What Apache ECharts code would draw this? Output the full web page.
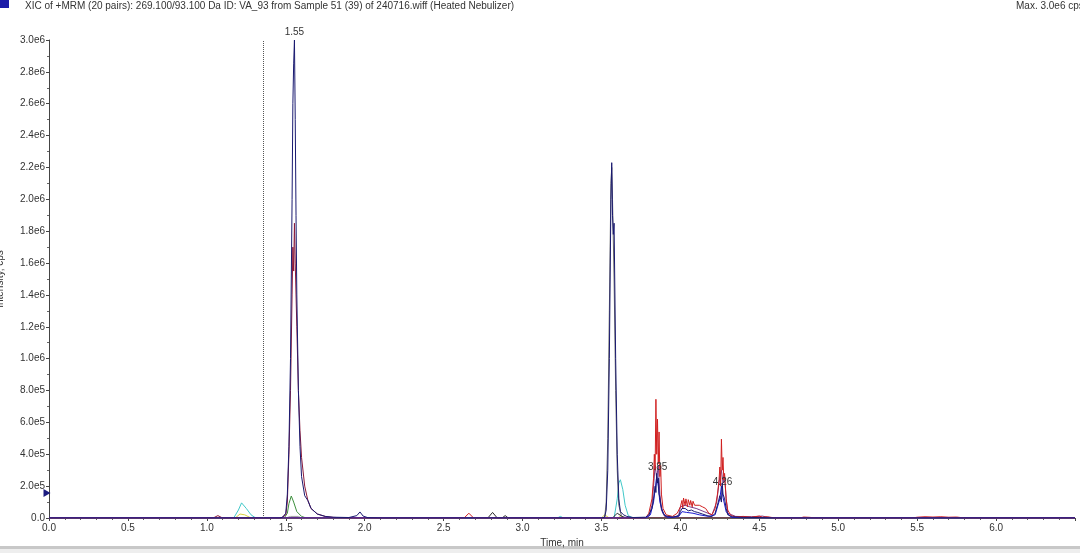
<!DOCTYPE html>
<html>
<head>
<meta charset="utf-8">
<script src="https://cdn.jsdelivr.net/npm/echarts@6/dist/echarts.min.js"></script>
<style>
html,body{margin:0;padding:0;background:#fff;overflow:hidden;}
#chart{width:1080px;height:553px;}
</style>
</head>
<body>
<div id="chart"></div>
<script>
// ---- data (time in min, intensity in cps) ----
const titleText = 'XIC of +MRM (20 pairs): 269.100/93.100 Da ID: VA_93 from Sample 51 (39) of 240716.wiff (Heated Nebulizer)';
const maxText = 'Max. 3.0e6 cps';
const xTicks = [0, 0.5, 1.0, 1.5, 2.0, 2.5, 3.0, 3.5, 4.0, 4.5, 5.0, 5.5, 6.0];
const peakLabels = [
  {text: '1.55', t: 1.555, v: 3.0e6, pos: 'top'},
  {text: '3.85', t: 3.856, v: 3.2e5, pos: 'inside'},
  {text: '4.26', t: 4.267, v: 2.26e5, pos: 'inside'}
];
const cursorTime = 1.365;
const markerLevel = 1.57e5;

const navyTrace = [[0,0],[1.46,0],[1.48,5e3],[1.50,3e4],[1.51,1.5e5],[1.52,4.5e5],[1.53,1.0e6],[1.54,2.0e6],[1.545,2.6e6],[1.55,2.85e6],[1.555,3.0e6],[1.56,2.5e6],[1.565,1.9e6],[1.57,1.4e6],[1.58,8e5],[1.59,4.5e5],[1.60,2.6e5],[1.62,1.4e5],[1.64,1.1e5],[1.66,6e4],[1.70,2.5e4],[1.75,1e4],[1.80,5e3],[1.90,3e3],[1.95,1.5e4],[1.97,3.8e4],[1.99,1.2e4],[2.02,2e3],[2.1,0],[3.50,0],[3.52,5e3],[3.53,5e4],[3.54,3e5],[3.55,1.0e6],[3.56,2.0e6],[3.565,2.23e6],[3.57,1.9e6],[3.575,1.78e6],[3.58,1.85e6],[3.59,1.0e6],[3.60,4e5],[3.61,1.2e5],[3.62,4e4],[3.64,2e4],[3.66,1e4],[3.70,3e3],[3.78,5e3],[3.80,2e4],[3.82,6e4],[3.83,1.2e5],[3.84,2.0e5],[3.845,1.6e5],[3.85,2.8e5],[3.855,2.2e5],[3.86,2.5e5],[3.865,1.5e5],[3.87,1.3e5],[3.88,6e4],[3.90,1.5e4],[3.95,5e3],[3.99,1.5e4],[4.00,4e4],[4.01,6e4],[4.02,5e4],[4.03,6e4],[4.05,4.5e4],[4.07,5e4],[4.09,4e4],[4.11,3.5e4],[4.14,2.5e4],[4.17,1.5e4],[4.20,8e3],[4.22,3e4],[4.24,1e5],[4.25,1.4e5],[4.26,1.0e5],[4.265,2.2e5],[4.27,1.5e5],[4.28,1.2e5],[4.29,6e4],[4.30,2e4],[4.33,8e3],[4.40,4e3],[4.5,3e3],[4.6,0],[6.5,0]];

const grayTrace = [[0,0],[3.52,0],[3.53,1e5],[3.54,5e5],[3.55,1.3e6],[3.56,2.1e6],[3.565,2.2e6],[3.57,2.0e6],[3.58,1.5e6],[3.59,8e5],[3.60,3e5],[3.61,8e4],[3.63,0],[6.5,0]];

const maroonTrace = [[0,0],[1.04,0],[1.07,1.5e4],[1.10,0],[1.47,0],[1.50,2e4],[1.51,1e5],[1.52,4e5],[1.53,8e5],[1.54,1.4e6],[1.545,1.7e6],[1.55,1.55e6],[1.555,1.85e6],[1.56,1.6e6],[1.57,1.2e6],[1.58,8e5],[1.59,5.5e5],[1.60,3.8e5],[1.62,2e5],[1.64,1.1e5],[1.66,6e4],[1.70,2.5e4],[1.75,1e4],[1.80,4e3],[1.90,0],[6.5,0]];

const purpleTrace = [[0,0],[3.78,0],[3.80,1e4],[3.82,8e4],[3.83,2e5],[3.84,3.3e5],[3.85,2.5e5],[3.86,3.3e5],[3.87,1.5e5],[3.88,5e4],[3.90,1e4],[3.97,5e3],[3.99,2e4],[4.00,7e4],[4.03,8e4],[4.06,7e4],[4.10,6e4],[4.15,4e4],[4.20,2e4],[4.23,1e5],[4.25,2.6e5],[4.26,3.0e5],[4.27,2.2e5],[4.28,2.6e5],[4.29,1.2e5],[4.30,3e4],[4.35,1e4],[4.45,8e3],[4.52,1.2e4],[4.55,5e3],[4.6,0],[6.5,0]];

const redTrace = [[0,0],[2.63,0],[2.66,3e4],[2.69,0],[3.78,0],[3.80,3e4],[3.82,1.2e5],[3.83,2.5e5],[3.835,4.0e5],[3.84,3.0e5],[3.845,7.45e5],[3.85,4.0e5],[3.855,6.2e5],[3.86,3.4e5],[3.865,5.4e5],[3.87,2.6e5],[3.875,3.3e5],[3.88,1.5e5],[3.89,6e4],[3.91,2e4],[3.95,1e4],[3.98,3e4],[4.00,7e4],[4.01,1.1e5],[4.015,6e4],[4.02,1.25e5],[4.03,8e4],[4.035,1.2e5],[4.045,7e4],[4.05,1.15e5],[4.06,8e4],[4.065,1.1e5],[4.075,7e4],[4.08,1.05e5],[4.09,8e4],[4.10,9e4],[4.12,8e4],[4.14,7e4],[4.16,6e4],[4.18,3e4],[4.20,2e4],[4.22,6e4],[4.235,1.5e5],[4.245,2.4e5],[4.25,3.2e5],[4.255,2.0e5],[4.26,4.95e5],[4.265,3.0e5],[4.27,3.8e5],[4.275,2.4e5],[4.28,2.8e5],[4.29,1.2e5],[4.30,5e4],[4.32,1.5e4],[4.35,8e3],[4.40,1e4],[4.45,5e3],[4.50,1.2e4],[4.52,5e3],[4.55,8e3],[4.60,0],[4.76,0],[4.78,6e3],[4.82,4e3],[4.86,0],[5.47,0],[5.50,5e3],[5.55,8e3],[5.60,6e3],[5.65,8e3],[5.70,5e3],[5.75,6e3],[5.80,0],[6.5,0]];

const blueTrace = [[0,0],[3.78,0],[3.81,2e4],[3.83,1e5],[3.84,1.8e5],[3.85,2.6e5],[3.86,2.0e5],[3.87,1.0e5],[3.89,3e4],[3.92,0],[3.99,1e4],[4.01,4e4],[4.04,3.5e4],[4.08,3e4],[4.12,2e4],[4.18,1e4],[4.22,2e4],[4.25,1.2e5],[4.26,2.0e5],[4.27,1.3e5],[4.29,4e4],[4.32,5e3],[4.40,0],[6.5,0]];

const cyanTrace = [[0,0],[1.17,0],[1.20,5e4],[1.22,9.5e4],[1.25,6e4],[1.28,2e4],[1.31,0],[3.22,0],[3.24,1e4],[3.26,0],[3.58,0],[3.60,1.2e5],[3.61,2.2e5],[3.62,2.4e5],[3.635,1.8e5],[3.65,8e4],[3.67,1.5e4],[3.70,0],[6.5,0]];

const greenTrace = [[0,0],[1.49,0],[1.51,3e4],[1.52,9e4],[1.535,1.38e5],[1.55,1e5],[1.57,4e4],[1.60,1e4],[1.63,0],[6.5,0]];

const blackTrace = [[0,0],[2.78,0],[2.81,3.5e4],[2.84,0],[2.87,0],[2.89,1.5e4],[2.91,0],[3.57,0],[3.60,3e4],[3.63,1e4],[3.66,0],[6.5,0]];

const yellowTrace = [[0,0],[1.18,0],[1.21,2.5e4],[1.24,2e4],[1.28,0],[3.50,0],[3.52,2e4],[3.55,0],[3.60,0],[3.62,1e4],[3.65,0],[6.5,0]];

const lightGrayTrace = [[0,0],[1.50,0],[1.53,1e4],[1.58,1e4],[1.60,0],[6.5,0]];

// ---- chart ----
const FONT = 'Liberation Sans, Arial, sans-serif';
const FS = 10;
const chart = echarts.init(document.getElementById('chart'), null, {renderer: 'canvas'});

function line(name, data, color, extra) {
  return Object.assign({
    name: name, type: 'line', data: data, symbol: 'none', smooth: false,
    lineStyle: {color: color, width: 1}, itemStyle: {color: color},
    silent: true, animation: false
  }, extra || {});
}

const navyExtra = {
  z: 10,
  markPoint: {
    silent: true, animation: false,
    data: peakLabels.map(p => ({
      coord: [p.t, p.v], symbol: 'circle', symbolSize: 1,
      itemStyle: {color: 'rgba(0,0,0,0)'},
      label: {show: true, formatter: p.text, position: p.pos, distance: 2,
              color: '#333', fontSize: FS, fontFamily: FONT}
    })).concat([{
      coord: [0, markerLevel], symbol: 'triangle', symbolRotate: -90,
      symbolSize: [8, 7], symbolOffset: [-2, 0],
      itemStyle: {color: '#1c1c80'}, label: {show: false}
    }])
  },
  markLine: {
    silent: true, animation: false, symbol: 'none',
    lineStyle: {color: '#555', type: 'dotted', width: 1},
    label: {show: false},
    data: [{xAxis: cursorTime}]
  }
};

chart.setOption({
  animation: false,
  backgroundColor: '#fff',
  grid: {left: 49, right: 5, top: 40, bottom: 35, containLabel: false, outerBoundsMode: 'none'},
  xAxis: {
    type: 'value', min: 0, max: 6.5, interval: 0.5,
    name: 'Time, min', nameLocation: 'middle', nameGap: 20,
    nameTextStyle: {color: '#333', fontSize: FS, fontFamily: FONT},
    axisLine: {show: true, lineStyle: {color: '#444', width: 1}},
    axisTick: {show: true, length: 3, lineStyle: {color: '#444'}},
    minorTick: {show: true, splitNumber: 5, length: 2, lineStyle: {color: '#666'}},
    axisLabel: {color: '#333', fontSize: FS, fontFamily: FONT, margin: 5, showMaxLabel: false,
      formatter: v => xTicks.some(t => Math.abs(t - v) < 1e-6) ? v.toFixed(1) : ''},
    splitLine: {show: false}
  },
  yAxis: {
    type: 'value', min: 0, max: 3e6, interval: 2e5,
    name: 'Intensity, cps', nameLocation: 'middle', nameGap: 44, nameRotate: 90,
    nameTextStyle: {color: '#333', fontSize: FS, fontFamily: FONT},
    axisLine: {show: true, lineStyle: {color: '#444', width: 1}},
    axisTick: {show: true, length: 3, lineStyle: {color: '#444'}},
    minorTick: {show: true, splitNumber: 2, length: 2, lineStyle: {color: '#666'}},
    axisLabel: {color: '#333', fontSize: FS, fontFamily: FONT, margin: 4,
      formatter: v => v === 0 ? '0.0' : v.toExponential(1).replace('+', '')},
    splitLine: {show: false}
  },
  graphic: [
    {type: 'rect', left: 0, top: 0, shape: {width: 9, height: 8}, style: {fill: '#1c1ca8'}},
    {type: 'text', left: 25, top: 1, style: {text: titleText, fill: '#333', fontSize: FS, fontFamily: FONT}},
    {type: 'text', left: 1016, top: 1, style: {text: maxText, fill: '#333', fontSize: FS, fontFamily: FONT}},
    {type: 'rect', left: 0, top: 546, shape: {width: 1080, height: 3}, style: {fill: '#c8c8c8'}},
    {type: 'rect', left: 0, top: 549, shape: {width: 1080, height: 4}, style: {fill: '#eeeeee'}}
  ],
  series: [
    line('lightgray', lightGrayTrace, '#a0a0a0'),
    line('yellow', yellowTrace, '#d8d040'),
    line('green', greenTrace, '#3d8f3d'),
    line('cyan', cyanTrace, '#40c8c8'),
    line('black', blackTrace, '#2a2a2a'),
    line('gray', grayTrace, '#6a6a6a'),
    line('maroon', maroonTrace, '#8b1a3a'),
    line('purple', purpleTrace, '#7a3a8a'),
    line('red', redTrace, '#d02020'),
    line('blue', blueTrace, '#1a1ad0'),
    line('navy', navyTrace, '#1a1a70', navyExtra)
  ]
});
</script>
</body>
</html>
